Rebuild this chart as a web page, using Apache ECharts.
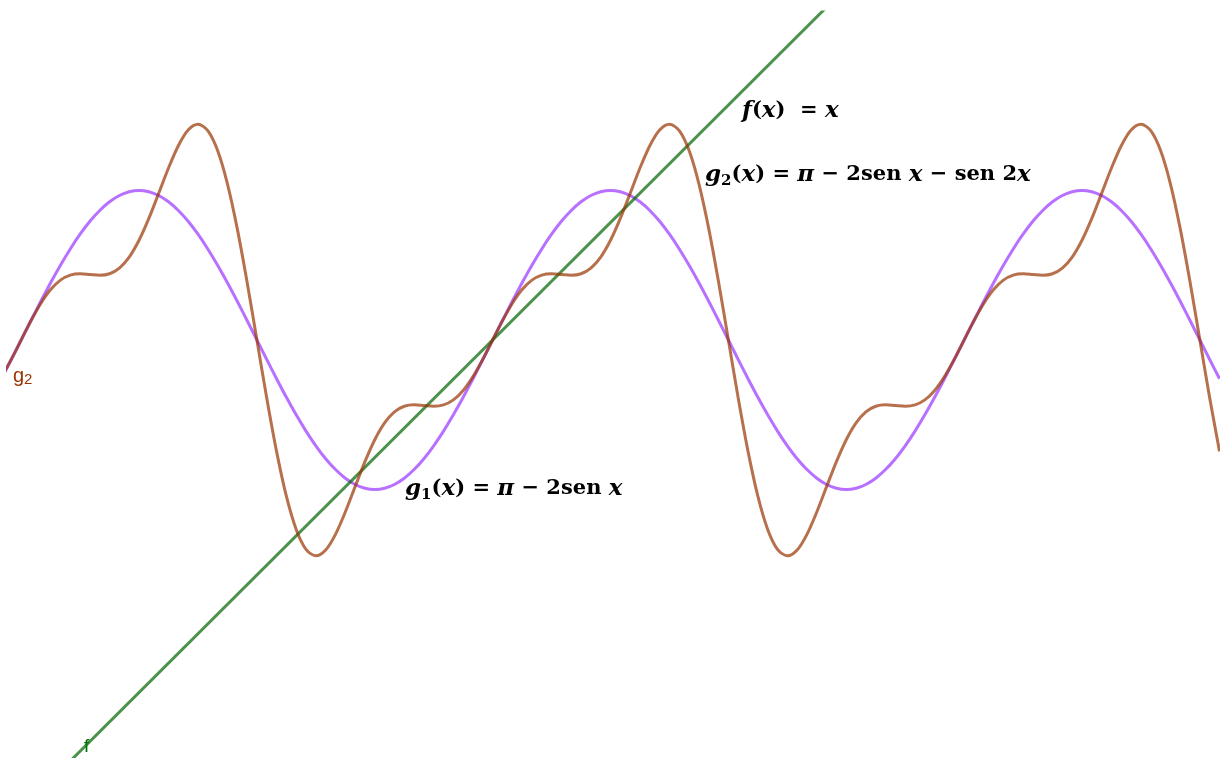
<!DOCTYPE html>
<html>
<head>
<meta charset="utf-8">
<title>Aproximaciones de f(x) = x</title>
<script src="https://cdn.jsdelivr.net/npm/echarts@6/dist/echarts.min.js"></script>
<style>
  html, body { margin: 0; padding: 0; background: #ffffff; }
  #chart { width: 1224px; height: 758px; }
</style>
</head>
<body>
<div id="chart"></div>
<script>
// Sample abscissas: multiples of pi/24 from -26pi/24 to 98pi/24
const xs = [
  -3.4034, -3.2725, -3.1416, -3.0107, -2.8798, -2.7489, -2.6180, -2.4871, -2.3562, -2.2253,
  -2.0944, -1.9635, -1.8326, -1.7017, -1.5708, -1.4399, -1.3090, -1.1781, -1.0472, -0.9163,
  -0.7854, -0.6545, -0.5236, -0.3927, -0.2618, -0.1309,
  0.0000, 0.1309, 0.2618, 0.3927, 0.5236, 0.6545, 0.7854, 0.9163, 1.0472, 1.1781,
  1.3090, 1.4399, 1.5708, 1.7017, 1.8326, 1.9635, 2.0944, 2.2253, 2.3562, 2.4871,
  2.6180, 2.7489, 2.8798, 3.0107, 3.1416, 3.2725, 3.4034, 3.5343, 3.6652, 3.7961,
  3.9270, 4.0579, 4.1888, 4.3197, 4.4506, 4.5815, 4.7124, 4.8433, 4.9742, 5.1051,
  5.2360, 5.3669, 5.4978, 5.6287, 5.7596, 5.8905, 6.0214, 6.1523,
  6.2832, 6.4141, 6.5450, 6.6759, 6.8068, 6.9377, 7.0686, 7.1995, 7.3304, 7.4613,
  7.5922, 7.7231, 7.8540, 7.9849, 8.1158, 8.2467, 8.3776, 8.5085, 8.6394, 8.7703,
  8.9012, 9.0321, 9.1630, 9.2939, 9.4248, 9.5557, 9.6866, 9.8175, 9.9484, 10.0793,
  10.2102, 10.3411, 10.4720, 10.6029, 10.7338, 10.8647, 10.9956, 11.1265, 11.2574, 11.3883,
  11.5192, 11.6501, 11.7810, 11.9119, 12.0428, 12.1737, 12.3046, 12.4355,
  12.5664, 12.6973, 12.8282
];

// g1(x) = pi - 2 sen x
const g1 = [
  2.6240, 2.8806, 3.1416, 3.4026, 3.6592, 3.9070, 4.1416, 4.3592, 4.5558, 4.7284,
  4.8736, 4.9894, 5.0734, 5.1244, 5.1416, 5.1244, 5.0734, 4.9894, 4.8736, 4.7284,
  4.5558, 4.3592, 4.1416, 3.9070, 3.6592, 3.4026,
  3.1416, 2.8806, 2.6240, 2.3762, 2.1416, 1.9240, 1.7274, 1.5548, 1.4096, 1.2938,
  1.2098, 1.1588, 1.1416, 1.1588, 1.2098, 1.2938, 1.4096, 1.5548, 1.7274, 1.9240,
  2.1416, 2.3762, 2.6240, 2.8806, 3.1416, 3.4026, 3.6592, 3.9070, 4.1416, 4.3592,
  4.5558, 4.7284, 4.8736, 4.9894, 5.0734, 5.1244, 5.1416, 5.1244, 5.0734, 4.9894,
  4.8736, 4.7284, 4.5558, 4.3592, 4.1416, 3.9070, 3.6592, 3.4026,
  3.1416, 2.8806, 2.6240, 2.3762, 2.1416, 1.9240, 1.7274, 1.5548, 1.4096, 1.2938,
  1.2098, 1.1588, 1.1416, 1.1588, 1.2098, 1.2938, 1.4096, 1.5548, 1.7274, 1.9240,
  2.1416, 2.3762, 2.6240, 2.8806, 3.1416, 3.4026, 3.6592, 3.9070, 4.1416, 4.3592,
  4.5558, 4.7284, 4.8736, 4.9894, 5.0734, 5.1244, 5.1416, 5.1244, 5.0734, 4.9894,
  4.8736, 4.7284, 4.5558, 4.3592, 4.1416, 3.9070, 3.6592, 3.4026,
  3.1416, 2.8806, 2.6240
];

// g2 curve values
const g2 = [
  2.6526, 2.8843, 3.1416, 3.3989, 3.6306, 3.8158, 3.9423, 4.0092, 4.0272, 4.0176,
  4.0076, 4.0272, 4.1020, 4.2497, 4.4749, 4.7673, 5.1020, 5.4414, 5.7396, 5.9494,
  6.0272, 5.9410, 5.6743, 5.2300, 4.6306, 3.9165,
  3.1416, 2.3667, 1.6526, 1.0532, 0.6089, 0.3422, 0.2560, 0.3338, 0.5436, 0.8418,
  1.1812, 1.5159, 1.8083, 2.0335, 2.1812, 2.2560, 2.2756, 2.2656, 2.2560, 2.2740,
  2.3409, 2.4674, 2.6526, 2.8843, 3.1416, 3.3989, 3.6306, 3.8158, 3.9423, 4.0092,
  4.0272, 4.0176, 4.0076, 4.0272, 4.1020, 4.2497, 4.4749, 4.7673, 5.1020, 5.4414,
  5.7396, 5.9494, 6.0272, 5.9410, 5.6743, 5.2300, 4.6306, 3.9165,
  3.1416, 2.3667, 1.6526, 1.0532, 0.6089, 0.3422, 0.2560, 0.3338, 0.5436, 0.8418,
  1.1812, 1.5159, 1.8083, 2.0335, 2.1812, 2.2560, 2.2756, 2.2656, 2.2560, 2.2740,
  2.3409, 2.4674, 2.6526, 2.8843, 3.1416, 3.3989, 3.6306, 3.8158, 3.9423, 4.0092,
  4.0272, 4.0176, 4.0076, 4.0272, 4.1020, 4.2497, 4.4749, 4.7673, 5.1020, 5.4414,
  5.7396, 5.9494, 6.0272, 5.9410, 5.6743, 5.2300, 4.6306, 3.9165,
  3.1416, 2.3667, 1.6526
];

// f(x) = x, two end points
const fx = [-3.6, 8.0];
const fy = [-3.6, 8.0];

const pairs = (a, b) => a.map((v, i) => [v, b[i]]);

const MATH_FONT = '"DejaVu Serif", "Liberation Serif", serif';
const LABEL_FONT = '"Liberation Sans", Arial, sans-serif';
// i: italic math symbols, r: upright bold text, s: subscript
const mathRich = {
  i: { fontFamily: MATH_FONT, fontStyle: 'italic', fontWeight: 'bold', fontSize: 23, lineHeight: 28, fill: '#000' },
  r: { fontFamily: MATH_FONT, fontWeight: 'bold', fontSize: 21, lineHeight: 28, fill: '#000' },
  s: { fontFamily: MATH_FONT, fontWeight: 'bold', fontSize: 15, lineHeight: 12, verticalAlign: 'bottom', fill: '#000' }
};

const chart = echarts.init(document.getElementById('chart'), null, { renderer: 'canvas' });

chart.setOption({
  backgroundColor: '#ffffff',
  animation: false,
  grid: { left: 8, right: 6, top: 12, bottom: 0, containLabel: false },
  xAxis: {
    type: 'value', min: -3.317, max: 12.808,
    show: false, splitLine: { show: false }
  },
  yAxis: {
    type: 'value', min: -2.447, max: 7.527,
    show: false, splitLine: { show: false }
  },
  series: [
    {
      name: 'g1', type: 'line', data: pairs(xs, g1), smooth: 0.3, symbol: 'none', clip: true,
      lineStyle: { color: 'rgba(153,51,255,0.7)', width: 3 }, z: 2
    },
    {
      name: 'f', type: 'line', data: pairs(fx, fy), symbol: 'none', clip: true,
      lineStyle: { color: 'rgba(0,100,0,0.7)', width: 3 }, z: 3
    },
    {
      name: 'g2', type: 'line', data: pairs(xs, g2), smooth: 0.3, symbol: 'none', clip: true,
      lineStyle: { color: 'rgba(153,51,0,0.7)', width: 3 }, z: 4
    }
  ],
  graphic: [
    {
      type: 'text', z: 10,
      style: { x: 742, y: 111, verticalAlign: 'middle', text: '{i|f}{r|(}{i|x}{r|)  = }{i|x}', rich: mathRich }
    },
    {
      type: 'text', z: 10,
      style: {
        x: 705, y: 175, verticalAlign: 'middle',
        text: '{i|g}{s|2}{r|(}{i|x}{r|) = }{i|π}{r| − 2sen }{i|x}{r| − sen 2}{i|x}', rich: mathRich
      }
    },
    {
      type: 'text', z: 10,
      style: {
        x: 405, y: 489, verticalAlign: 'middle',
        text: '{i|g}{s|1}{r|(}{i|x}{r|) = }{i|π}{r| − 2sen }{i|x}', rich: mathRich
      }
    },
    {
      type: 'text', z: 10,
      style: {
        x: 13, y: 376, verticalAlign: 'middle',
        text: '{a|g}{b|2}',
        rich: {
          a: { fontFamily: LABEL_FONT, fontSize: 20, lineHeight: 22, fill: '#993300' },
          b: { fontFamily: LABEL_FONT, fontSize: 15, lineHeight: 14, verticalAlign: 'bottom', fill: '#993300' }
        }
      }
    },
    {
      type: 'text', z: 10,
      style: { x: 84, y: 747, verticalAlign: 'middle', text: 'f', fontFamily: LABEL_FONT, fontSize: 19, fill: '#007000' }
    }
  ]
});
</script>
</body>
</html>
